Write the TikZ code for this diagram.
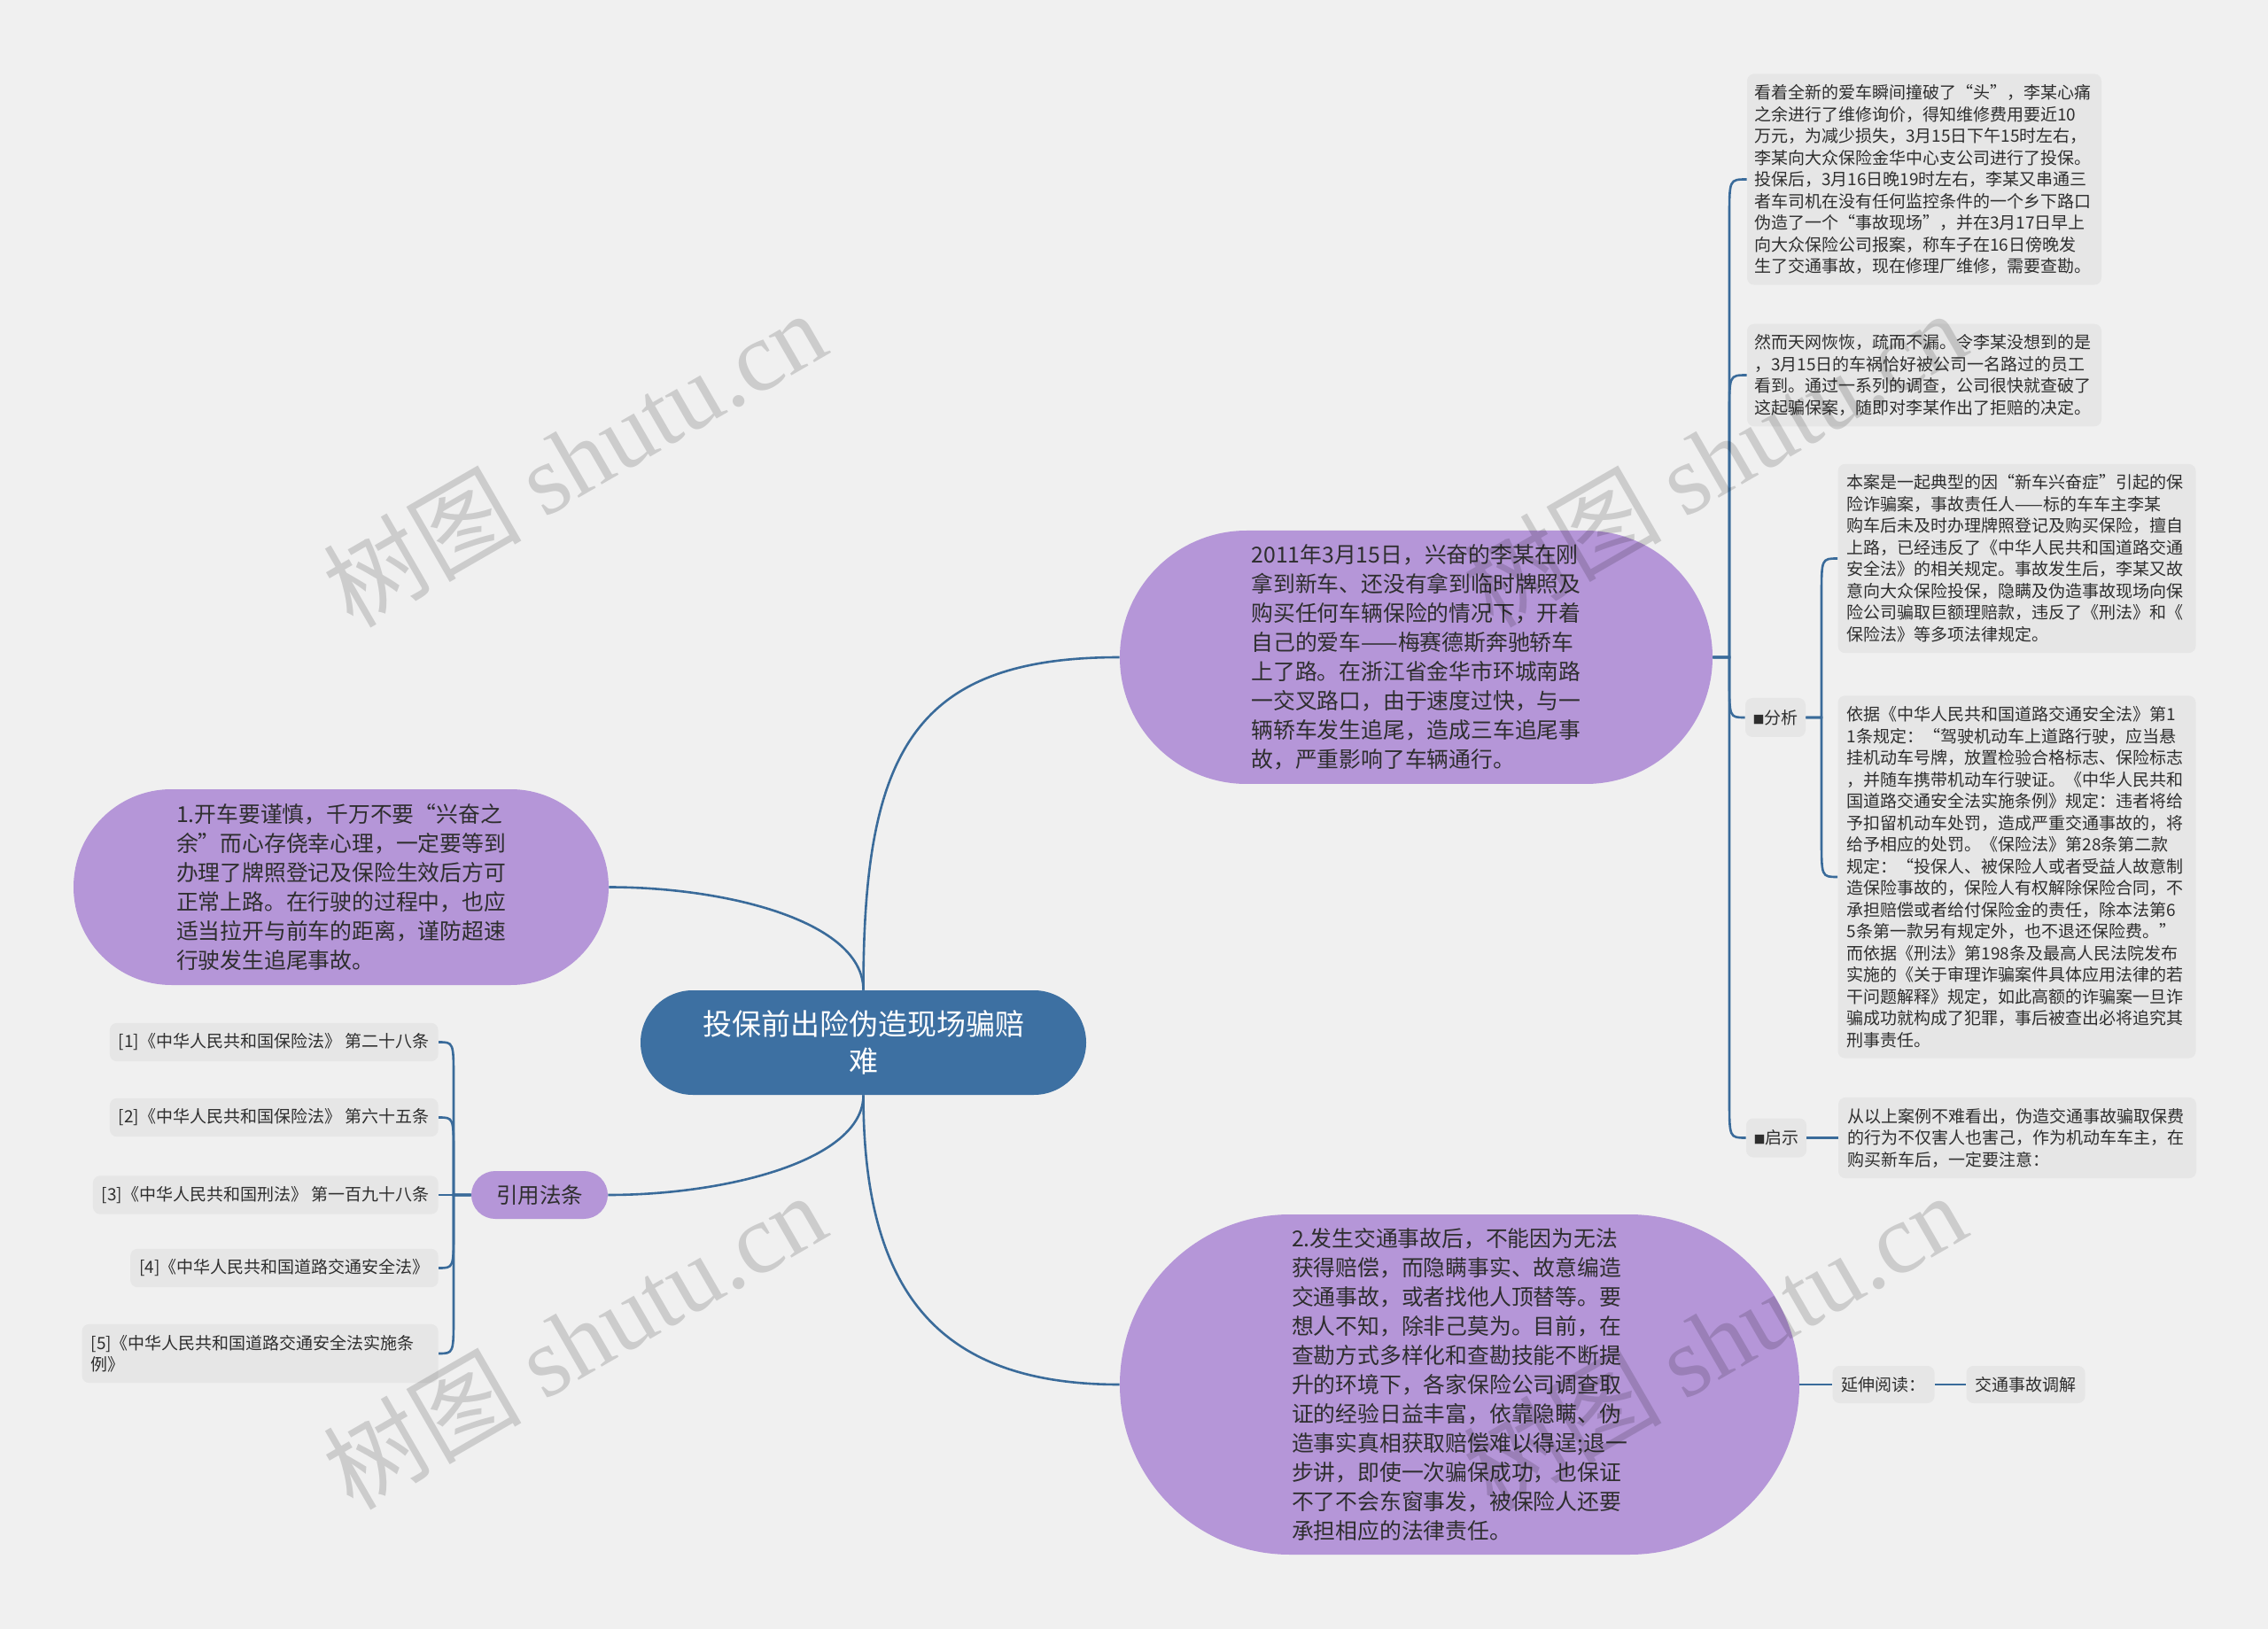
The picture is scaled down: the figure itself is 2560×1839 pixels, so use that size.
\documentclass[tikz,border=0pt]{standalone}
\usepackage{fontspec}
\setmainfont{Noto Sans CJK SC}
\newfontfamily\wmlat{Liberation Serif}
\XeTeXlinebreaklocale "zh"
\XeTeXlinebreakskip=0pt plus 1pt
\definecolor{bgc}{HTML}{F0F0F0}
\definecolor{boxc}{HTML}{E6E6E6}
\definecolor{purp}{HTML}{B596D8}
\definecolor{rootc}{HTML}{3D70A2}
\definecolor{linec}{HTML}{3A6B9A}
\definecolor{txtc}{HTML}{2E2E2E}
\newcommand{\smsq}{{\fontsize{6.5pt}{6.5pt}\selectfont ■}}
\begin{document}
\begin{tikzpicture}[x=0.5pt,y=-0.5pt,
  conn/.style={draw=linec,line width=1.3pt},
  purpnode/.style={fill=purp,text=txtc,align=left,inner sep=0pt,font=\fontsize{12.4pt}{16.5pt}\selectfont},
  graybox/.style={fill=boxc,rounded corners=4pt,text=txtc,align=left,inner xsep=5pt,inner ysep=6pt,font=\fontsize{9.5pt}{12.25pt}\selectfont},
  wm/.style={text=black,text opacity=0.15,font=\fontsize{56pt}{60pt}\selectfont,rotate=30,inner sep=0pt}
]
\useasboundingbox (0,0) rectangle (2560,1839);
\fill[bgc] (0,0) rectangle (2560,1839);

% root
\node[fill=rootc,text=white,align=center,minimum width=251.5pt,minimum height=59pt,rounded corners=29.5pt,inner sep=0pt,font=\fontsize{16.5pt}{21pt}\selectfont] (root) at (974.5,1177) {投保前出险伪造现场骗赔\\难};

% main purple nodes
\node[purpnode,minimum width=334.5pt,minimum height=143pt,rounded corners=71.5pt] (n1) at (1598.5,742) {2011年3月15日，兴奋的李某在刚\\拿到新车、还没有拿到临时牌照及\\购买任何车辆保险的情况下，开着\\自己的爱车——梅赛德斯奔驰轿车\\上了路。在浙江省金华市环城南路\\一交叉路口，由于速度过快，与一\\辆轿车发生追尾，造成三车追尾事\\故，严重影响了车辆通行。};

\node[purpnode,minimum width=302pt,minimum height=110.5pt,rounded corners=55.25pt] (n2) at (385,1001.5) {1.开车要谨慎，千万不要“兴奋之\\余”而心存侥幸心理，一定要等到\\办理了牌照登记及保险生效后方可\\正常上路。在行驶的过程中，也应\\适当拉开与前车的距离，谨防超速\\行驶发生追尾事故。};

\node[purpnode,minimum width=383.5pt,minimum height=192pt,rounded corners=96pt] (n3) at (1647.5,1563) {2.发生交通事故后，不能因为无法\\获得赔偿，而隐瞒事实、故意编造\\交通事故，或者找他人顶替等。要\\想人不知，除非己莫为。目前，在\\查勘方式多样化和查勘技能不断提\\升的环境下，各家保险公司调查取\\证的经验日益丰富，依靠隐瞒、伪\\造事实真相获取赔偿难以得逞;退一\\步讲，即使一次骗保成功，也保证\\不了不会东窗事发，被保险人还要\\承担相应的法律责任。};

\node[fill=purp,text=txtc,minimum width=77pt,minimum height=27pt,rounded corners=13.5pt,inner sep=0pt,font=\fontsize{12.25pt}{15pt}\selectfont] (yf) at (609,1349) {引用法条};

% right side text boxes
\node[graybox,text width=192pt,inner xsep=4pt] (b1) at (2172,202.5) {看着全新的爱车瞬间撞破了“头”，李某心痛\\之余进行了维修询价，得知维修费用要近10\\万元，为减少损失，3月15日下午15时左右，\\李某向大众保险金华中心支公司进行了投保。\\投保后，3月16日晚19时左右，李某又串通三\\者车司机在没有任何监控条件的一个乡下路口\\伪造了一个“事故现场”，并在3月17日早上\\向大众保险公司报案，称车子在16日傍晚发\\生了交通事故，现在修理厂维修，需要查勘。};

\node[graybox,text width=192pt,inner xsep=4pt] (b2) at (2172,423.5) {然而天网恢恢，疏而不漏。令李某没想到的是\\，3月15日的车祸恰好被公司一名路过的员工\\看到。通过一系列的调查，公司很快就查破了\\这起骗保案，随即对李某作出了拒赔的决定。};

\node[graybox,minimum width=34pt,minimum height=22pt,inner xsep=2pt,inner ysep=0pt,align=center] (fx) at (2004,810) {\smsq 分析};
\node[graybox,minimum width=34pt,minimum height=22pt,inner xsep=2pt,inner ysep=0pt,align=center] (qs) at (2005,1284.5) {\smsq 启示};

\node[graybox,text width=192pt] (ba) at (2276.5,630.5) {本案是一起典型的因“新车兴奋症”引起的保\\险诈骗案，事故责任人——标的车车主李某\\购车后未及时办理牌照登记及购买保险，擅自\\上路，已经违反了《中华人民共和国道路交通\\安全法》的相关规定。事故发生后，李某又故\\意向大众保险投保，隐瞒及伪造事故现场向保\\险公司骗取巨额理赔款，违反了《刑法》和《\\保险法》等多项法律规定。};

\node[graybox,text width=192pt] (bb) at (2276.5,990) {依据《中华人民共和国道路交通安全法》第1\\1条规定：“驾驶机动车上道路行驶，应当悬\\挂机动车号牌，放置检验合格标志、保险标志\\，并随车携带机动车行驶证。《中华人民共和\\国道路交通安全法实施条例》规定：违者将给\\予扣留机动车处罚，造成严重交通事故的，将\\给予相应的处罚。《保险法》第28条第二款\\规定：“投保人、被保险人或者受益人故意制\\造保险事故的，保险人有权解除保险合同，不\\承担赔偿或者给付保险金的责任，除本法第6\\5条第一款另有规定外，也不退还保险费。”\\而依据《刑法》第198条及最高人民法院发布\\实施的《关于审理诈骗案件具体应用法律的若\\干问题解释》规定，如此高额的诈骗案一旦诈\\骗成功就构成了犯罪，事后被查出必将追究其\\刑事责任。};

\node[graybox,text width=192pt] (bq) at (2277,1284.5) {从以上案例不难看出，伪造交通事故骗取保费\\的行为不仅害人也害己，作为机动车车主，在\\购买新车后，一定要注意：};

\node[graybox,minimum width=57pt,minimum height=21pt,inner ysep=0pt,align=center] (ys) at (2126,1563) {延伸阅读：};
\node[graybox,minimum width=66.5pt,minimum height=21pt,inner ysep=0pt,align=center] (jt) at (2286.5,1563) {交通事故调解};

% references
\node[graybox,anchor=east] (r1) at (495,1176.5) {[1]《中华人民共和国保险法》 第二十八条};
\node[graybox,anchor=east] (r2) at (495,1261.5) {[2]《中华人民共和国保险法》 第六十五条};
\node[graybox,anchor=east] (r3) at (495,1349) {[3]《中华人民共和国刑法》 第一百九十八条};
\node[graybox,anchor=east] (r4) at (495,1431.5) {[4]《中华人民共和国道路交通安全法》};
\node[graybox,anchor=east,text width=191pt] (r5) at (495,1528) {[5]《中华人民共和国道路交通安全法实施条\\例》};

% connectors from root
\draw[conn] (root.north) .. controls (974.5,850) and (1030,742) .. (n1.west);
\draw[conn] (root.north) .. controls (974.5,1040) and (820,1001.5) .. (n2.east);
\draw[conn] (root.south) .. controls (974.5,1460) and (1060,1563) .. (n3.west);
\draw[conn] (root.south) .. controls (974.5,1310) and (820,1349) .. (yf.east);

% right branches of n1
\draw[conn] (n1.east) -- (1952,742) -- (1952,245) .. controls (1952,202.5) .. (b1.west);
\draw[conn] (n1.east) -- (1952,742) -- (1952,466) .. controls (1952,423.5) .. (b2.west);
\draw[conn] (n1.east) -- (1952,742) -- (1952,767) .. controls (1952,810) .. (fx.west);
\draw[conn] (n1.east) -- (1952,742) -- (1952,1241) .. controls (1952,1284.5) .. (qs.west);

\draw[conn] (fx.east) -- (2056,810) -- (2056,673) .. controls (2056,630.5) .. (ba.west);
\draw[conn] (fx.east) -- (2056,810) -- (2056,947) .. controls (2056,990) .. (bb.west);
\draw[conn] (qs.east) -- (bq.west);

\draw[conn] (n3.east) -- (ys.west);
\draw[conn] (ys.east) -- (jt.west);

% references
\draw[conn] (yf.west) -- (512,1349) -- (512,1219) .. controls (512,1176.5) .. (r1.east);
\draw[conn] (yf.west) -- (512,1349) -- (512,1304) .. controls (512,1261.5) .. (r2.east);
\draw[conn] (yf.west) -- (r3.east);
\draw[conn] (yf.west) -- (512,1349) -- (512,1389) .. controls (512,1431.5) .. (r4.east);
\draw[conn] (yf.west) -- (512,1349) -- (512,1485) .. controls (512,1528) .. (r5.east);

% watermarks
\node[wm] (w1) at (648,517) {树图 {\wmlat shutu.cn}};
\node[wm] (w2) at (648,1513) {树图 {\wmlat shutu.cn}};
\node[wm] (w3) at (1935,517) {树图 {\wmlat shutu.cn}};
\node[wm] (w4) at (1935,1513) {树图 {\wmlat shutu.cn}};
\end{tikzpicture}
\end{document}
